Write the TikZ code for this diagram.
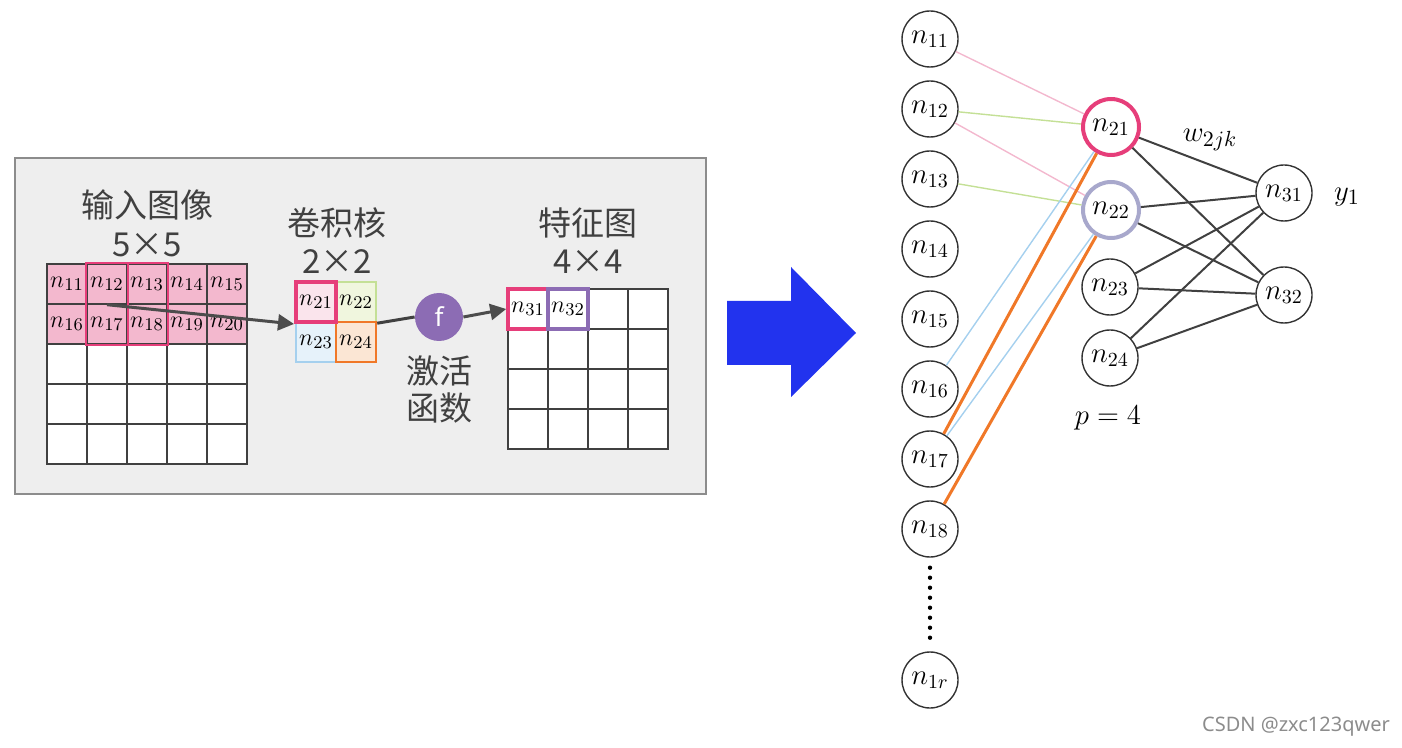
\documentclass[tikz,border=0pt]{standalone}
\usepackage{amsmath}
\usepackage{fontspec}
\usepackage{tikz}
\usetikzlibrary{arrows.meta}
\newfontfamily\cjk{Noto Sans CJK SC}
\newfontfamily\wmfont{Noto Sans}
\definecolor{panelgray}{RGB}{238,238,238}
\definecolor{cellpink}{RGB}{243,184,206}
\definecolor{hotpink}{RGB}{230,62,122}
\definecolor{palepink}{RGB}{250,228,236}
\definecolor{kgreen}{RGB}{196,224,150}
\definecolor{palegreen}{RGB}{240,246,222}
\definecolor{kblue}{RGB}{165,208,238}
\definecolor{paleblue}{RGB}{230,242,250}
\definecolor{korange}{RGB}{240,120,40}
\definecolor{paleorange}{RGB}{251,230,212}
\definecolor{fpurple}{RGB}{140,108,180}
\definecolor{lavender}{RGB}{168,168,204}
\definecolor{bigblue}{RGB}{34,51,238}
\tikzstyle{cell}=[draw=black!75, line width=0.7pt, minimum size=20pt, inner sep=0pt, font=\fontsize{12.5}{14}\selectfont]
\tikzstyle{neuron}=[circle, draw=black!80, line width=0.7pt, minimum size=28pt, inner sep=0pt, font=\fontsize{14}{16}\selectfont]
\tikzstyle{title}=[text=black!75, font=\cjk\fontsize{16.5}{18.5}\selectfont, align=center]
\tikzset{flow/.style={draw=black!70, line width=1.5pt, -{Triangle[length=8pt,width=8pt]}},
  edge/.style={draw=black!75, line width=1pt},
  link/.style={line width=0.7pt}}

\begin{document}
\begin{tikzpicture}[x=0.5pt, y=-0.5pt]
		\useasboundingbox (0,0) rectangle (1402,748);
		% left panel
		\filldraw[fill=panelgray, draw=black!45, line width=1pt] (15,158) rectangle (706,494);
		\node[title] (intitle) at (147,205) {输入图像};
		\node[title] (insize) at (147,245) {5×5};
		\node[title] (ktitle) at (337,223) {卷积核};
		\node[title] (ksize) at (337,262) {2×2};
		\node[title] (mtitle) at (588,223) {特征图};
		\node[title] (msize) at (588,262) {4×4};
		% input image 5x5
		\foreach \r in {1,...,5}
			\foreach \c in {1,...,5} {
				\pgfmathtruncatemacro\idx{10+(\r-1)*5+\c}
				\ifnum\r<3
					\node[cell, fill=cellpink] (a\r\c) at ({67+40*(\c-1)},{284+40*(\r-1)}) {$n_{\idx}$};
				\else
					\node[cell, fill=white] (a\r\c) at ({67+40*(\c-1)},{284+40*(\r-1)}) {};
				\fi
			}
		\draw[hotpink, line width=1pt] (a12.north west) rectangle (a23.south east);
		\draw[hotpink, line width=1pt] (a12.north east) -- (a22.south east);
		% kernel 2x2
		\node[cell, fill=palegreen, draw=kgreen, line width=1.2pt] (k12) at (356,302) {$n_{22}$};
		\node[cell, fill=paleblue, draw=kblue, line width=1.2pt] (k21) at (316,342) {$n_{23}$};
		\node[cell, fill=paleorange, draw=korange, line width=1.2pt] (k22) at (356,342) {$n_{24}$};
		\node[cell, fill=palepink, draw=hotpink, line width=2pt] (k11) at (316,302) {$n_{21}$};
		% feature map 4x4
		\foreach \r in {1,...,4}
			\foreach \c in {1,...,4}
				\node[cell, fill=white] (m\r\c) at ({528+40*(\c-1)},{309+40*(\r-1)}) {};
		\node[cell, draw=hotpink, line width=1.8pt] (m11) at (528,309) {$n_{31}$};
		\node[cell, draw=fpurple, line width=1.8pt] (m12) at (568,309) {$n_{32}$};
		% activation
		\node[circle, fill=fpurple, minimum size=24pt, inner sep=0pt, text=white, font=\wmfont\fontsize{13}{14}\selectfont] (act) at (439,317) {f};
		\node[title] (actname) at (439,389) {激活\\函数};
		\draw[flow] (a12.south) -- (k11.south west);
		\draw[edge, line width=1.5pt] (k12.south east) -- (act.west);
		\draw[flow] (act.east) -- (m11.west);
		% big arrow
		\fill[bigblue] (727,301) -- (791,301) -- (791,267) -- (856,333) -- (791,397) -- (791,365) -- (727,365) -- cycle;
		% network
		\foreach \k in {1,...,8}
			\node[neuron] (n1\k) at (930,{39+70*(\k-1)}) {$n_{1\k}$};
		\node[neuron] (n1r) at (930,680) {$n_{1r}$};
		\draw[line width=2.2pt, line cap=round, dash pattern=on 0pt off 5pt, shorten <=5pt, shorten >=5pt] (n18) -- (n1r);
		\node[neuron, draw=hotpink, line width=2pt] (n21) at (1111,127) {$n_{21}$};
		\node[neuron, draw=lavender, line width=2pt] (n22) at (1111,210) {$n_{22}$};
		\node[neuron] (n23) at (1110,287) {$n_{23}$};
		\node[neuron] (n24) at (1110,358) {$n_{24}$};
		\node[neuron] (n31) at (1284,193) {$n_{31}$};
		\node[neuron] (n32) at (1284,295) {$n_{32}$};
		\draw[link, cellpink] (n11) -- (n21);
		\draw[link, kgreen] (n12) -- (n21);
		\draw[link, cellpink] (n12) -- (n22);
		\draw[link, kgreen] (n13) -- (n22);
		\draw[link, kblue] (n16) -- (n21);
		\draw[link, kblue] (n17) -- (n22);
		\draw[korange, line width=1.5pt] (n17) -- (n21);
		\draw[korange, line width=1.5pt] (n18) -- (n22);
		\foreach \j in {21,22,23,24}
			\foreach \k in {31,32}
				\draw[edge] (n\j) -- (n\k);
		\node[font=\fontsize{15}{17}\selectfont] (wlabel) at (1210,140) {$w_{2jk}$};
		\node[font=\fontsize{15}{17}\selectfont] (ylabel) at (1347,197) {$y_1$};
		\node[font=\fontsize{15}{17}\selectfont] (plabel) at (1108,418) {$p=4$};
		\node[text=black!45, font=\wmfont\fontsize{10}{12}\selectfont] (mark) at (1296,727) {CSDN @zxc123qwer};
\end{tikzpicture}
\end{document}
